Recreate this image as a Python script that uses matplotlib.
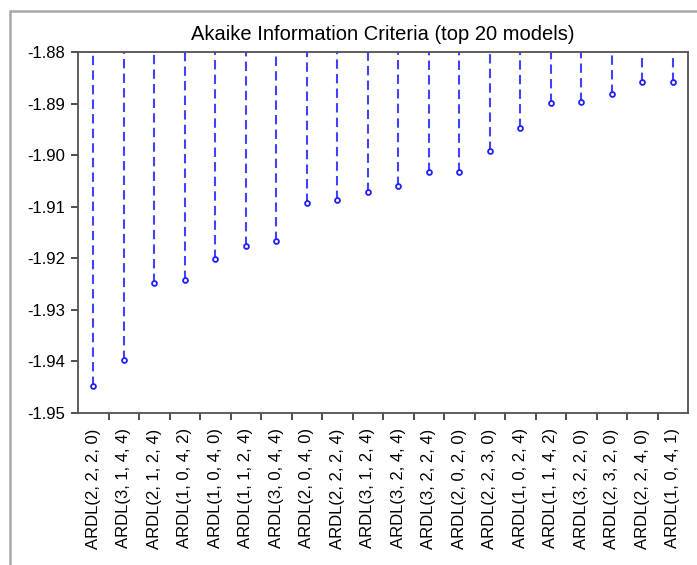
import matplotlib
matplotlib.use("Agg")
import matplotlib.pyplot as plt
import matplotlib.patches as patches
import numpy as np

# ARDL model selection: top 20 models by Akaike Information Criteria
models = ['ARDL(2, 2, 2, 0)', 'ARDL(3, 1, 4, 4)', 'ARDL(2, 1, 2, 4)', 'ARDL(1, 0, 4, 2)',
          'ARDL(1, 0, 4, 0)', 'ARDL(1, 1, 2, 4)', 'ARDL(3, 0, 4, 4)', 'ARDL(2, 0, 4, 0)',
          'ARDL(2, 2, 2, 4)', 'ARDL(3, 1, 2, 4)', 'ARDL(3, 2, 4, 4)', 'ARDL(3, 2, 2, 4)',
          'ARDL(2, 0, 2, 0)', 'ARDL(2, 2, 3, 0)', 'ARDL(1, 0, 2, 4)', 'ARDL(1, 1, 4, 2)',
          'ARDL(3, 2, 2, 0)', 'ARDL(2, 3, 2, 0)', 'ARDL(2, 2, 4, 0)', 'ARDL(1, 0, 4, 1)']
aic = [-1.9448, -1.9397, -1.9247, -1.9242, -1.9202, -1.9177, -1.9166, -1.9092,
       -1.9087, -1.9071, -1.9060, -1.9033, -1.9033, -1.8991, -1.8948, -1.8898,
       -1.8896, -1.8881, -1.8858, -1.8858]
y_ticks = [-1.88, -1.89, -1.90, -1.91, -1.92, -1.93, -1.94, -1.95]
y_top, y_bottom = -1.88, -1.95

plt.rcParams['font.family'] = ['Liberation Sans', 'DejaVu Sans']

fig = plt.figure(figsize=(6.97, 5.65), dpi=100)
W, H = 697, 565
ax = fig.add_axes([78 / W, 1 - 413 / H, (688 - 78) / W, (413 - 52) / H])

x = np.arange(len(models))
ax.vlines(x, aic, y_top, colors='#2020ff', linewidth=1.5, linestyles=(0, (4.5, 2.5)), alpha=0.85)
ax.plot(x, aic, 'o', markersize=3.5, markerfacecolor='white', markeredgecolor='#2020ff',
        markeredgewidth=1.3, linestyle='none')

ax.set_xlim(-0.5, len(models) - 0.5)
ax.set_ylim(y_bottom, y_top)
ax.set_yticks(y_ticks)
ax.set_yticklabels(['%.2f' % v for v in y_ticks], fontsize=12)

# category labels centred, tick marks on the boundaries
ax.set_xticks(x)
ax.set_xticklabels(models, rotation=90, fontsize=12)
ax.tick_params(axis='x', which='major', length=0, pad=11)
ax.set_xticks(np.arange(0.5, len(models) - 0.5), minor=True)
ax.tick_params(axis='x', which='minor', length=5, width=1.3, color='#404040')
ax.tick_params(axis='y', length=5, width=1.3, color='#404040', pad=4)

for s in ax.spines.values():
    s.set_color('#505050')
    s.set_linewidth(1.3)

ax.set_title('Akaike Information Criteria (top 20 models)', fontsize=14.5, pad=9)

# grey frame around the graph
frame = patches.Rectangle((10 / W, -0.1), 1.2, 1 - 11 / H + 0.1, transform=fig.transFigure,
                          fill=False, edgecolor='#a8a8a8', linewidth=1.8, clip_on=False)
fig.patches.append(frame)

fig.savefig('out.png', dpi=100)
